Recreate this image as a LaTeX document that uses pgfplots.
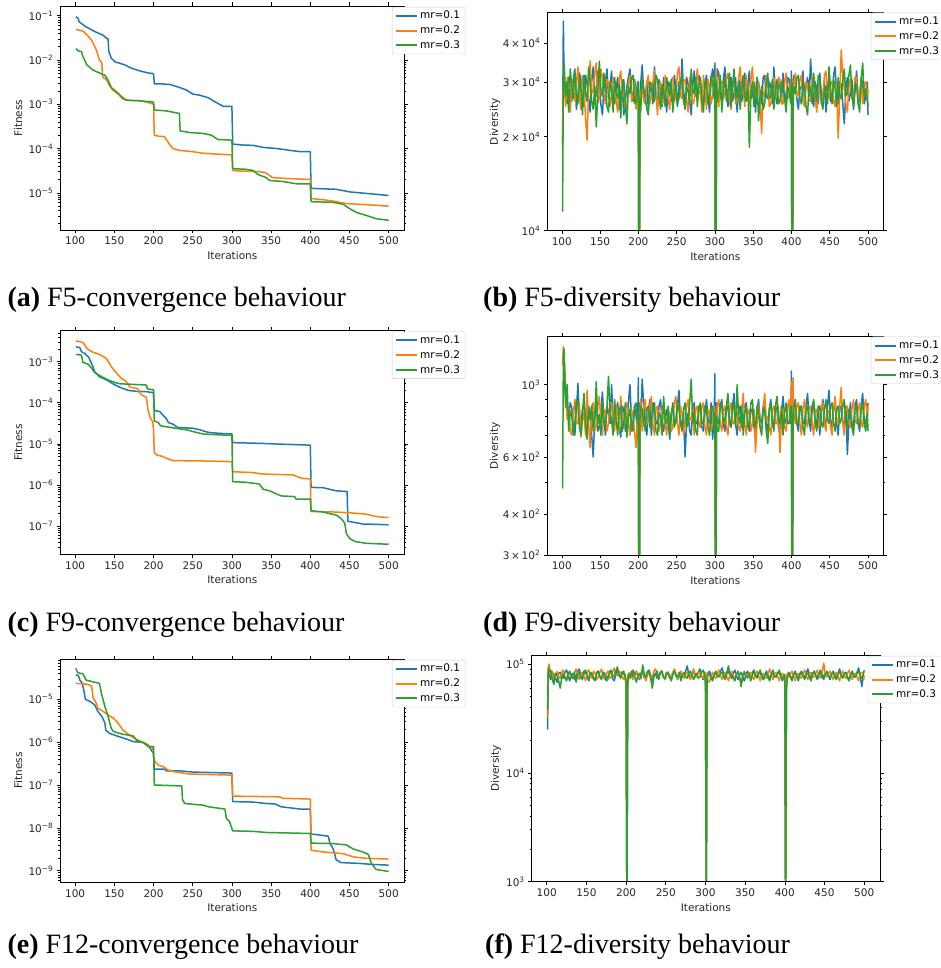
\documentclass[border=0pt]{standalone}
\usepackage{fontspec}
\setmainfont{DejaVu Sans}
\newfontfamily\capfont{Liberation Serif}
\usepackage{pgfplots}
\usepackage{pgfplotstable}
\pgfplotsset{compat=1.18}

\definecolor{mblue}{HTML}{1F77B4}
\definecolor{morange}{HTML}{FF7F0E}
\definecolor{mgreen}{HTML}{2CA02C}

\newcommand{\pw}[1]{10\textsuperscript{#1}}
\newcommand{\tx}[2]{#1\,×\,10\textsuperscript{#2}}

\pgfplotstableread{
x a b c
101 19000 18500 11500
102 47000 30000 31000
103 30000 29000 34500
105 28000 25000 27000
107 25500 31000 30000
109 31000 27500 24000
111 27500 24000 33000
113 26000 30500 29000
115 30500 28000 26500
117 33000 26000 32500
119 24500 29500 27000
121 27000 33500 25500
123 32000 27000 31000
125 30500 24500 28000
127 26000 31500 23500
129 25000 29000 31500
131 31500 23000 27500
133 29500 19500 26000
135 26500 28500 33500
137 24000 35000 30000
139 30000 27500 26000
141 33500 28000 24500
143 28000 32000 29000
145 27000 34500 21500
147 32500 25500 27500
149 29500 26500 35000
151 25500 33000 28500
153 23500 31000 27000
155 28500 27500 32000
157 30000 25500 29500
159 33000 30500 25000
161 26500 30000 24000
163 29000 25000 30000
165 32500 27000 28500
167 27000 31000 24000
169 25500 29500 31000
171 28500 26000 27500
173 31000 24000 26500
175 24500 30500 29500
177 27500 32500 23000
179 30500 27000 28000
181 23500 28500 30500
183 26000 24500 25500
185 29000 25000 22000
187 31000 29500 29000
189 33000 31500 27500
191 28000 26000 31000
193 26000 27000 31500
195 30500 30000 25500
197 28500 24500 26000
199 25500 28500 30000
200 30000 27500 28000
201 2000 2000 2000
202 25000 24000 26500
203 29500 27500 24000
205 34000 29000 31000
207 27500 26000 28500
209 26500 25500 27000
211 30000 30000 24500
213 24500 31500 23500
215 28000 25500 30000
217 29000 27000 29500
219 25500 30000 26500
221 33500 32500 26000
223 27000 27500 31500
225 25500 23500 30500
227 30500 29000 27000
229 28000 30000 24500
231 25000 25500 29500
233 31000 26000 28000
235 27500 31500 25000
237 24000 29500 31000
239 30000 26500 28500
241 29500 24500 27000
243 26000 30500 30500
245 26500 31000 24000
247 31500 26000 27500
249 28500 27000 29500
251 25000 32000 25500
253 30000 33500 26500
255 27000 27000 30000
257 35500 26500 31500
259 28000 30500 26000
261 25000 30500 24500
263 31000 26000 29000
265 29500 24000 28000
267 26000 31000 25500
269 23500 28500 33000
271 29000 25500 28500
273 32500 26000 27500
275 27000 30000 31000
277 27000 33000 25000
279 31500 27500 29000
281 30000 28000 31000
283 26500 24000 26000
285 25500 31500 24000
287 29500 28500 30000
289 31500 24500 29500
291 27000 30500 25500
293 24000 29000 26500
295 30500 25500 31500
297 33000 27000 30000
299 28500 31000 26500
300 34500 26500 31500
301 2000 2000 2000
302 28000 33000 30000
303 33000 28000 26000
305 32000 25000 27500
307 27000 30000 31500
309 26000 30000 24000
311 30500 26500 28500
313 33500 27500 31000
315 28000 31000 26000
317 25000 32000 28000
319 29500 26000 32000
321 31000 24500 25000
323 26000 29000 29000
325 27500 30500 33000
327 31000 25500 26500
329 24000 26500 27000
331 28500 31000 30000
333 30500 33500 24500
335 26000 27500 28500
337 28500 28000 31500
339 32000 25000 27000
341 26000 31500 26000
343 29500 27000 29500
345 32500 25000 18500
347 26500 30500 27500
349 27000 33500 30000
351 30000 27000 25000
353 24000 26500 27500
355 29000 31000 31000
357 30000 29500 22500
359 26500 26000 27000
361 25500 20500 29000
363 31000 28000 24500
365 31500 27000 25500
367 27000 31500 29500
369 26500 29500 32000
371 30000 25000 26500
373 29000 25500 27000
375 25500 29500 30500
377 33500 31000 24500
379 28000 26500 28000
381 25500 27000 30500
383 30500 31000 25500
385 28500 30500 26000
387 26000 25500 30000
389 32000 25500 29500
391 27500 30000 26500
393 26000 32000 24000
395 31000 26500 29000
397 30500 27000 28000
399 26500 30500 25500
400 32500 29000 31000
401 2000 2000 2000
402 27000 25000 24500
403 31500 29500 29000
405 30000 32000 27500
407 26500 27000 31000
409 24500 27500 31500
411 28500 30500 26500
413 29000 31500 25500
415 32500 26000 30000
417 26000 25000 29000
419 29000 30000 25000
421 31000 29500 23500
423 27000 26000 29500
425 35500 26000 28500
427 28500 31500 25500
429 25000 31000 32000
431 30000 26500 27500
433 28500 24000 26000
435 25500 29000 31500
437 32000 29000 30500
439 27500 25500 26000
441 26500 27000 24500
443 30000 31500 28500
445 24000 32500 29000
447 29000 27500 25500
449 30500 26500 33500
451 26000 30000 28500
453 27000 30000 25500
455 31500 26000 30500
457 33500 25000 28500
459 27000 29500 25000
461 25500 19800 31000
463 30000 27000 27000
465 29500 38000 26500
467 25500 31000 30500
469 22000 28500 33000
471 28500 25500 27000
473 31000 24000 27500
475 26000 29000 31500
477 27500 30500 34000
479 30500 26500 27000
481 24500 26500 25000
483 28000 31000 29500
485 32500 31000 29500
487 27000 25500 25500
489 26000 28000 24000
491 31000 30000 30500
493 29500 25500 34500
495 25500 29500 27000
497 27000 30000 28500
499 30000 26500 26000
500 23500 28500 25000
}\divB

\pgfplotstableread{
x a b c
101 1200 1150 480
102 1250 1310 1150
103 1050 1200 1290
105 900 1000 850
107 820 780 1000
109 780 850 720
111 880 720 830
113 850 700 800
115 740 820 700
117 700 900 760
119 820 760 900
121 1010 760 880
123 780 880 740
125 760 690 700
127 840 780 820
129 880 820 940
131 740 700 760
133 720 960 680
135 860 760 840
137 820 640 780
139 700 860 860
141 600 880 720
143 780 720 800
145 860 750 1020
147 720 860 760
149 740 920 810
151 820 760 700
153 950 700 880
155 780 840 760
157 700 830 740
159 860 720 860
161 820 760 1060
163 760 880 820
165 1000 880 780
167 780 760 700
169 760 720 900
171 840 860 780
173 880 830 700
175 740 720 840
177 690 920 860
179 860 780 720
181 840 740 760
183 720 860 880
185 760 880 690
187 880 760 800
189 1000 700 840
191 780 840 720
193 720 800 760
195 860 720 860
197 800 640 880
199 720 800 780
200 1050 760 800
201 100 100 100
202 880 820 780
203 780 900 860
205 1040 720 840
207 860 860 760
209 760 900 720
211 700 760 840
213 820 780 860
215 900 860 740
217 700 920 760
219 820 760 880
221 880 700 840
223 760 840 720
225 760 860 700
227 860 720 820
229 900 760 800
231 760 840 700
233 720 880 920
235 800 760 780
237 840 700 760
239 760 840 860
241 680 800 700
243 800 720 820
245 880 740 860
247 760 880 740
249 760 920 780
251 860 760 880
253 960 700 840
255 780 860 760
257 740 820 720
259 820 700 840
261 600 760 880
263 760 860 740
265 820 900 760
267 720 780 880
269 700 780 1040
271 840 860 760
273 880 700 820
275 760 840 720
277 760 860 700
279 860 760 840
281 840 740 880
283 740 860 760
285 720 880 760
287 820 740 860
289 900 700 840
291 780 840 740
293 760 820 700
295 880 720 840
297 680 760 860
299 800 860 760
300 1080 800 820
301 100 100 100
302 880 740 800
303 780 860 720
305 760 900 720
307 860 760 880
309 900 720 860
311 760 840 760
313 720 860 780
315 840 740 860
317 860 700 940
319 760 840 760
321 740 880 760
323 860 760 880
325 940 760 840
327 760 860 740
329 700 820 1000
331 820 740 800
333 860 720 760
335 740 840 860
337 760 940 700
339 860 760 820
341 880 700 860
343 760 820 740
345 720 840 760
347 840 720 880
349 840 760 900
351 740 840 760
353 700 620 740
355 820 760 860
357 900 860 820
359 780 740 740
361 760 720 700
363 860 840 840
365 860 940 840
367 760 780 720
369 720 800 660
371 840 740 840
373 900 700 880
375 760 840 760
377 760 860 720
379 860 760 860
381 840 760 920
383 740 860 780
385 700 620 760
387 820 800 860
389 920 840 700
391 780 740 820
393 760 720 880
395 860 840 760
397 880 900 760
399 760 780 860
400 1100 1020 860
401 100 100 100
402 780 1050 740
403 860 820 860
405 900 760 880
407 760 860 760
409 720 880 760
411 840 760 860
413 860 700 840
415 760 840 740
417 760 900 700
419 860 780 840
421 940 740 860
423 780 840 760
425 720 860 760
427 840 760 860
429 880 700 900
431 760 840 760
433 760 840 720
435 860 740 840
437 700 760 860
439 820 860 760
441 900 880 740
443 780 760 840
445 760 720 900
447 860 840 780
449 960 820 760
451 780 740 860
453 740 700 880
455 840 840 760
457 880 920 720
459 760 780 840
461 700 760 860
463 840 860 760
465 860 980 780
467 760 760 860
469 760 700 900
471 860 840 760
473 610 860 740
475 780 760 840
477 880 740 820
479 760 840 740
481 740 900 700
483 860 780 840
485 900 760 860
487 760 840 760
489 720 880 740
491 860 760 840
493 940 740 880
495 780 860 760
497 760 900 720
499 840 780 820
500 880 860 720
}\divD

\pgfplotstableread{
x a b c
101 25000 33000 38000
102 88000 95000 92000
103 80000 100000 85000
105 72000 78000 88000
107 84000 86000 72000
109 80000 70000 65000
111 74000 80000 82000
113 68000 85000 78000
115 82000 76000 70000
117 84000 74000 60000
119 76000 84000 76000
121 74000 88000 82000
123 84000 76000 74000
125 88000 72000 70000
127 78000 82000 82000
129 70000 82000 86000
131 80000 74000 76000
133 82000 76000 74000
135 72000 84000 84000
137 76000 90000 68000
139 86000 78000 80000
141 90000 72000 84000
143 78000 82000 74000
145 72000 84000 76000
147 82000 76000 86000
149 84000 70000 88000
151 76000 84000 78000
153 70000 88000 72000
155 82000 78000 84000
157 80000 74000 82000
159 72000 86000 74000
161 74000 82000 70000
163 84000 72000 82000
165 86000 76000 86000
167 76000 84000 76000
169 72000 90000 74000
171 84000 78000 84000
173 82000 72000 80000
175 74000 82000 70000
177 76000 86000 72000
179 86000 76000 82000
181 84000 74000 88000
183 74000 84000 76000
185 70000 92000 78000
187 80000 80000 86000
189 88000 78000 94000
191 78000 86000 80000
193 76000 84000 74000
195 84000 76000 84000
197 82000 72000 86000
199 74000 80000 76000
200 64000 58000 70000
201 500 500 500
202 70000 75000 62000
203 80000 78000 82000
205 80000 84000 74000
207 86000 76000 84000
209 74000 72000 88000
211 80000 84000 76000
213 86000 86000 68000
215 76000 76000 80000
217 72000 74000 82000
219 82000 84000 74000
221 84000 88000 98000
223 74000 78000 80000
225 76000 70000 76000
227 84000 80000 86000
229 88000 82000 84000
231 78000 74000 74000
233 70000 76000 60000
235 80000 86000 76000
237 82000 90000 80000
239 74000 80000 86000
241 78000 74000 72000
243 84000 82000 82000
245 86000 86000 86000
247 76000 76000 76000
249 72000 72000 74000
251 80000 82000 84000
253 84000 84000 82000
255 74000 78000 76000
257 76000 76000 70000
259 84000 84000 80000
261 88000 90000 86000
263 78000 80000 78000
265 72000 72000 76000
267 80000 82000 84000
269 84000 86000 70000
271 76000 78000 80000
273 76000 74000 84000
275 86000 82000 76000
277 96000 84000 74000
279 80000 76000 82000
281 74000 72000 86000
283 82000 82000 78000
285 86000 90000 72000
287 76000 80000 80000
289 78000 76000 82000
291 84000 84000 74000
293 90000 82000 76000
295 78000 76000 84000
297 72000 74000 88000
299 80000 84000 78000
300 84000 80000 70000
301 500 500 500
302 76000 82000 74000
303 82000 70000 80000
305 86000 68000 80000
307 78000 78000 74000
309 72000 84000 70000
311 80000 76000 80000
313 84000 74000 86000
315 76000 82000 78000
317 78000 88000 76000
319 86000 78000 82000
321 92000 72000 84000
323 80000 80000 76000
325 76000 84000 72000
327 82000 76000 84000
329 86000 70000 96000
331 78000 80000 80000
333 74000 86000 80000
335 82000 78000 74000
337 88000 74000 70000
339 78000 82000 80000
341 72000 82000 86000
343 80000 74000 76000
345 84000 66000 62000
347 76000 80000 78000
349 70000 86000 84000
351 80000 80000 76000
353 86000 74000 76000
355 78000 82000 82000
357 74000 84000 70000
359 82000 76000 78000
361 88000 72000 86000
363 80000 80000 78000
365 76000 86000 74000
367 82000 78000 82000
369 84000 70000 88000
371 76000 80000 78000
373 72000 82000 72000
375 80000 76000 80000
377 86000 74000 82000
379 78000 82000 74000
381 74000 90000 70000
383 80000 80000 80000
385 88000 72000 84000
387 78000 80000 76000
389 76000 84000 76000
391 82000 76000 82000
393 84000 70000 88000
395 76000 80000 78000
397 70000 82000 72000
399 78000 76000 80000
400 80000 76000 70000
401 500 500 500
402 64000 70000 56000
403 76000 82000 74000
405 84000 76000 82000
407 78000 80000 76000
409 72000 86000 70000
411 80000 78000 80000
413 86000 70000 84000
415 78000 80000 76000
417 70000 82000 74000
419 80000 76000 82000
421 84000 74000 86000
423 78000 82000 78000
425 76000 88000 72000
427 82000 78000 80000
429 90000 72000 82000
431 80000 80000 76000
433 74000 84000 70000
435 82000 76000 80000
437 86000 76000 86000
439 78000 82000 78000
441 72000 88000 76000
443 80000 78000 82000
445 88000 74000 84000
447 80000 84000 76000
449 76000 102000 72000
451 82000 80000 80000
453 84000 76000 86000
455 78000 82000 78000
457 72000 86000 74000
459 80000 78000 82000
461 86000 72000 84000
463 78000 80000 76000
465 76000 84000 72000
467 82000 76000 80000
469 90000 70000 86000
471 80000 80000 78000
473 74000 86000 76000
475 82000 78000 82000
477 84000 74000 82000
479 76000 82000 74000
481 72000 88000 70000
483 80000 78000 80000
485 86000 72000 84000
487 78000 80000 76000
489 76000 82000 76000
491 84000 76000 82000
493 92000 70000 86000
495 78000 82000 78000
497 62000 84000 74000
499 78000 76000 80000
500 76000 72000 88000
}\divF

\pgfplotsset{
  mypanel/.style={
    scale only axis,
    xmin=81.05, xmax=519.95,
    xtick={100,150,200,250,300,350,400,450,500},
    xticklabels={100,150,200,250,300,350,400,450,500},
    axis line style={black, line width=0.8pt},
    tick align=outside,
    major tick length=3.5pt,
    minor tick length=2pt,
    every tick/.style={black, line width=0.6pt},
    tick label style={font=\fontsize{10.5}{12}\selectfont, text=black!85},
    every axis label/.append style={font=\fontsize{10.5}{12}\selectfont, text=black!85},
    xlabel={Iterations},
    xlabel style={at={(axis description cs:0.5,0)}, anchor=center, yshift=-25.7pt},
    axis on top,
    legend cell align=left,
    legend style={anchor=north west, draw=black!20, rounded corners=2pt,
      fill=white, font=\fontsize{10.5}{12}\selectfont,
      inner xsep=3pt, inner ysep=2pt, row sep=1.5pt,
      /tikz/column 2/.style={column sep=5pt}},
  },
  myconv/.style={mypanel, ylabel={Fitness},
    ylabel style={at={(axis description cs:-0.122,0.5)}, anchor=center}},
  mydiv/.style={mypanel, ylabel={Diversity}},
  ser/.style={line width=1.5pt, line join=round},
  legend image code/.code={\draw[#1,line width=2pt] (0pt,0pt) -- (21pt,0pt);},
}

\begin{document}
\begin{tikzpicture}
\useasboundingbox (0,0) rectangle (940pt,968pt);
\clip (0,0) rectangle (940pt,968pt);

% (a) F5 convergence
\begin{axis}[myconv, ymode=log, at={(60.3pt,738pt)}, anchor=south west, width=344pt, height=224pt,
  ymin=1.445e-6, ymax=0.166,
  ytick={1e-5,1e-4,1e-3,1e-2,1e-1},
  yticklabels={\pw{−5},\pw{−4},\pw{−3},\pw{−2},\pw{−1}},
  minor ytick={2e-6,3e-6,4e-6,5e-6,6e-6,7e-6,8e-6,9e-6,2e-5,3e-5,4e-5,5e-5,6e-5,7e-5,8e-5,9e-5,2e-4,3e-4,4e-4,5e-4,6e-4,7e-4,8e-4,9e-4,2e-3,3e-3,4e-3,5e-3,6e-3,7e-3,8e-3,9e-3,2e-2,3e-2,4e-2,5e-2,6e-2,7e-2,8e-2,9e-2},
  legend style={at={(0.964,0.996)}}]
\addplot[ser, mblue] coordinates {(101,0.095)(104,0.087)(105,0.073)(114,0.056)(125,0.044)(136,0.036)(140,0.031)(142,0.030)(143,0.0155)(144,0.014)(146,0.011)(151,0.0091)(163,0.0078)(172,0.0065)(182,0.0057)(193,0.0051)(200,0.0049)(201,0.0029)(208,0.0029)(221,0.0028)(233,0.0024)(242,0.0021)(250,0.0017)(259,0.0016)(270,0.0014)(276,0.0012)(282,0.00105)(289,0.0009)(300,0.0009)(301,1.26e-4)(314,1.2e-4)(327,1.18e-4)(340,1.06e-4)(357,1e-4)(374,9.1e-5)(387,8.5e-5)(400,8.5e-5)(401,1.26e-5)(433,1.2e-5)(450,1.05e-5)(471,9.7e-6)(500,8.7e-6)};
\addplot[ser, morange] coordinates {(101,0.049)(110,0.045)(115,0.037)(121,0.028)(127,0.017)(131,0.010)(134,0.0087)(135,0.0041)(140,0.0036)(144,0.0026)(148,0.0021)(155,0.0017)(161,0.0013)(170,0.00123)(182,0.0012)(193,0.0011)(200,0.001)(201,2e-4)(206,1.9e-4)(214,1.85e-4)(221,1.2e-4)(225,1e-4)(233,9.1e-5)(250,8.5e-5)(263,7.8e-5)(280,7.5e-5)(300,7.2e-5)(301,3.2e-5)(310,3.1e-5)(327,3.05e-5)(342,2.9e-5)(352,2.2e-5)(370,2.1e-5)(400,2.0e-5)(401,7.4e-6)(416,7.0e-6)(429,6.5e-6)(446,5.7e-6)(463,5.5e-6)(500,5.0e-6)};
\addplot[ser, mgreen] coordinates {(101,0.018)(104,0.016)(108,0.0155)(110,0.012)(115,0.0077)(123,0.0059)(131,0.0051)(138,0.0045)(142,0.0035)(146,0.0024)(153,0.0019)(159,0.0015)(165,0.00123)(182,0.0012)(200,0.00112)(201,7.4e-4)(216,7.1e-4)(233,6.2e-4)(234,2.5e-4)(246,2.3e-4)(263,2.2e-4)(274,2.0e-4)(282,1.6e-4)(300,1.55e-4)(301,3.5e-5)(318,3.4e-5)(327,3.2e-5)(333,2.6e-5)(344,2.2e-5)(348,1.9e-5)(365,1.8e-5)(382,1.6e-5)(400,1.58e-5)(401,6.3e-6)(429,6.1e-6)(442,5.5e-6)(450,4.4e-6)(459,3.6e-6)(471,3.1e-6)(484,2.6e-6)(500,2.4e-6)};
\legend{mr=0.1,mr=0.2,mr=0.3}
\end{axis}

% (b) F5 diversity
\begin{axis}[mydiv, ymode=log, at={(547.3pt,737.3pt)}, anchor=south west, width=336pt, height=218pt,
  ylabel style={at={(axis description cs:-0.156,0.5)}, anchor=center},
  ymin=1e4, ymax=5e4,
  ytick={10000,20000,30000,40000},
  yticklabels={\pw{4},\tx{2}{4},\tx{3}{4},\tx{4}{4}},
  minor ytick={9000},
  legend style={at={(0.963,1)}}]
\addplot[ser, mblue] table[x=x,y=a]{\divB};
\addplot[ser, morange] table[x=x,y=b]{\divB};
\addplot[ser, mgreen] table[x=x,y=c]{\divB};
\legend{mr=0.1,mr=0.2,mr=0.3}
\end{axis}

% (c) F9 convergence
\begin{axis}[myconv, ymode=log, at={(60.3pt,413.7pt)}, anchor=south west, width=344pt, height=223.6pt,
  ymin=2.05e-8, ymax=5.68e-3,
  ytick={1e-7,1e-6,1e-5,1e-4,1e-3},
  yticklabels={\pw{−7},\pw{−6},\pw{−5},\pw{−4},\pw{−3}},
  minor ytick={3e-8,4e-8,5e-8,6e-8,7e-8,8e-8,9e-8,2e-7,3e-7,4e-7,5e-7,6e-7,7e-7,8e-7,9e-7,2e-6,3e-6,4e-6,5e-6,6e-6,7e-6,8e-6,9e-6,2e-5,3e-5,4e-5,5e-5,6e-5,7e-5,8e-5,9e-5,2e-4,3e-4,4e-4,5e-4,6e-4,7e-4,8e-4,9e-4,2e-3,3e-3,4e-3,5e-3},
  legend style={at={(0.964,0.996)}}]
\addplot[ser, mblue] coordinates {(101,2.3e-3)(106,2.2e-3)(108,1.75e-3)(112,1.6e-3)(117,1.3e-3)(121,9.1e-4)(125,5.7e-4)(131,4.3e-4)(140,3.6e-4)(151,2.7e-4)(159,2.3e-4)(168,2.0e-4)(178,1.9e-4)(191,1.86e-4)(200,1.76e-4)(201,6.5e-5)(208,6.1e-5)(212,5.0e-5)(216,4.2e-5)(219,3.3e-5)(225,3.0e-5)(231,2.5e-5)(250,2.4e-5)(259,2.2e-5)(270,1.9e-5)(284,1.8e-5)(300,1.75e-5)(301,1.07e-5)(335,1.03e-5)(352,1.0e-5)(400,9.3e-6)(401,8.7e-7)(416,8.6e-7)(425,7.8e-7)(433,7.2e-7)(447,6.9e-7)(448,1.3e-7)(459,1.2e-7)(467,1.12e-7)(484,1.1e-7)(500,1.07e-7)};
\addplot[ser, morange] coordinates {(101,3.2e-3)(110,2.95e-3)(115,2.1e-3)(121,1.75e-3)(131,1.5e-3)(140,1.2e-3)(146,7.6e-4)(153,5.2e-4)(159,3.9e-4)(165,3.3e-4)(170,2.4e-4)(180,2.2e-4)(182,1.77e-4)(185,1.55e-4)(191,1.35e-4)(193,6.6e-5)(196,4.2e-5)(199,3.5e-5)(200,2.2e-5)(201,6.1e-6)(204,5.4e-6)(212,4.9e-6)(216,4.5e-6)(225,3.9e-6)(259,3.85e-6)(300,3.7e-6)(301,2.1e-6)(327,2.0e-6)(338,1.85e-6)(378,1.75e-6)(389,1.45e-6)(400,1.4e-6)(401,2.25e-7)(429,2.2e-7)(450,2.1e-7)(471,1.95e-7)(484,1.7e-7)(500,1.6e-7)};
\addplot[ser, mgreen] coordinates {(101,1.5e-3)(108,1.45e-3)(110,9.6e-4)(117,8.6e-4)(121,6.9e-4)(125,5.4e-4)(134,4.3e-4)(142,3.6e-4)(151,3.1e-4)(157,2.9e-4)(174,2.8e-4)(191,2.7e-4)(192,2.2e-4)(200,2.05e-4)(201,3.6e-5)(206,3.3e-5)(209,2.75e-5)(225,2.45e-5)(242,2.2e-5)(250,2.0e-5)(263,1.74e-5)(284,1.65e-5)(300,1.62e-5)(301,1.2e-6)(318,1.16e-6)(335,1.05e-6)(340,7.8e-7)(348,7.2e-7)(357,6.0e-7)(363,5.4e-7)(380,5.2e-7)(382,4.5e-7)(400,4.5e-7)(401,2.35e-7)(416,2.2e-7)(425,2.0e-7)(433,1.85e-7)(439,1.55e-7)(444,1.17e-7)(446,6.6e-8)(450,5.0e-8)(457,4.2e-8)(471,3.8e-8)(500,3.6e-8)};
\legend{mr=0.1,mr=0.2,mr=0.3}
\end{axis}

% (d) F9 diversity
\begin{axis}[mydiv, ymode=log, at={(547.3pt,413pt)}, anchor=south west, width=336pt, height=218.3pt,
  ylabel style={at={(axis description cs:-0.156,0.5)}, anchor=center},
  ymin=300, ymax=1404,
  ytick={300,400,600,1000},
  yticklabels={\tx{3}{2},\tx{4}{2},\tx{6}{2},\pw{3}},
  minor ytick={500,700,800,900},
  legend style={at={(0.963,1)}}]
\addplot[ser, mblue] table[x=x,y=a]{\divD};
\addplot[ser, morange] table[x=x,y=b]{\divD};
\addplot[ser, mgreen] table[x=x,y=c]{\divD};
\legend{mr=0.1,mr=0.2,mr=0.3}
\end{axis}

% (e) F12 convergence
\begin{axis}[myconv, ymode=log, at={(60.3pt,85.7pt)}, anchor=south west, width=344pt, height=223.3pt,
  ymin=5.37e-10, ymax=8.7e-5,
  ytick={1e-9,1e-8,1e-7,1e-6,1e-5},
  yticklabels={\pw{−9},\pw{−8},\pw{−7},\pw{−6},\pw{−5}},
  minor ytick={6e-10,7e-10,8e-10,9e-10,2e-9,3e-9,4e-9,5e-9,6e-9,7e-9,8e-9,9e-9,2e-8,3e-8,4e-8,5e-8,6e-8,7e-8,8e-8,9e-8,2e-7,3e-7,4e-7,5e-7,6e-7,7e-7,8e-7,9e-7,2e-6,3e-6,4e-6,5e-6,6e-6,7e-6,8e-6,9e-6,2e-5,3e-5,4e-5,5e-5,6e-5,7e-5,8e-5},
  legend style={at={(0.964,0.996)}}]
\addplot[ser, mblue] coordinates {(101,3.7e-5)(104,3.6e-5)(106,2.8e-5)(109,2.4e-5)(111,1.65e-5)(113,1.0e-5)(119,8.9e-6)(125,7.4e-6)(129,5.2e-6)(134,4.0e-6)(138,2.8e-6)(139,1.9e-6)(144,1.6e-6)(153,1.4e-6)(166,1.17e-6)(174,1.03e-6)(187,9.8e-7)(193,8.6e-7)(197,6.5e-7)(200,5.5e-7)(201,2.35e-7)(214,2.35e-7)(216,2.15e-7)(233,2.15e-7)(250,2.0e-7)(300,1.9e-7)(301,4.1e-8)(327,4.0e-8)(344,3.7e-8)(355,3.6e-8)(363,3.1e-8)(387,2.75e-8)(400,2.75e-8)(401,7.2e-9)(412,6.8e-9)(423,6.4e-9)(425,4.4e-9)(429,3.3e-9)(431,2.5e-9)(433,1.8e-9)(439,1.55e-9)(463,1.48e-9)(480,1.4e-9)(500,1.35e-9)};
\addplot[ser, morange] coordinates {(101,2.35e-5)(115,2.25e-5)(121,2.05e-5)(123,1.05e-5)(127,8.1e-6)(129,6.2e-6)(136,5.2e-6)(142,4.3e-6)(149,3.6e-6)(155,2.75e-6)(161,1.9e-6)(172,1.35e-6)(183,1.03e-6)(191,8.9e-7)(199,7.2e-7)(200,4.6e-7)(202,3.5e-7)(206,2.9e-7)(212,2.7e-7)(219,2.2e-7)(229,2.0e-7)(246,1.8e-7)(300,1.7e-7)(301,5.5e-8)(361,5.3e-8)(365,4.9e-8)(400,4.7e-8)(401,3.0e-9)(416,2.75e-9)(442,2.5e-9)(455,2.1e-9)(471,1.95e-9)(500,1.87e-9)};
\addplot[ser, mgreen] coordinates {(101,5.3e-5)(103,4.2e-5)(110,3.9e-5)(114,2.8e-5)(121,2.6e-5)(131,2.35e-5)(134,1.26e-5)(138,6.8e-6)(142,4.0e-6)(146,2.1e-6)(149,1.77e-6)(159,1.55e-6)(174,1.4e-6)(178,1.12e-6)(187,9.8e-7)(193,7.9e-7)(200,7.9e-7)(201,1.0e-7)(236,9.5e-8)(237,4.5e-8)(240,3.7e-8)(250,3.55e-8)(263,3.4e-8)(270,3.1e-8)(291,2.75e-8)(293,1.65e-8)(297,1.4e-8)(301,8.5e-9)(327,8.3e-9)(344,7.8e-9)(400,7.4e-9)(401,4.4e-9)(429,4.3e-9)(446,4.0e-9)(455,3.2e-9)(467,2.75e-9)(474,2.4e-9)(478,1.48e-9)(484,1.07e-9)(500,9.6e-10)};
\legend{mr=0.1,mr=0.2,mr=0.3}
\end{axis}

% (f) F12 diversity
\begin{axis}[mydiv, ymode=log, at={(531.7pt,86.3pt)}, anchor=south west, width=348.3pt, height=226.7pt,
  ylabel style={at={(axis description cs:-0.1025,0.5)}, anchor=center},
  ymin=1e3, ymax=1.21e5,
  ytick={1000,10000,100000},
  yticklabels={\pw{3},\pw{4},\pw{5}},
  minor ytick={2000,3000,4000,5000,6000,7000,8000,9000,20000,30000,40000,50000,60000,70000,80000,90000},
  legend style={at={(0.965,0.996)}}]
\addplot[ser, mblue] table[x=x,y=a]{\divF};
\addplot[ser, morange] table[x=x,y=b]{\divF};
\addplot[ser, mgreen] table[x=x,y=c]{\divF};
\legend{mr=0.1,mr=0.2,mr=0.3}
\end{axis}

% captions
\begin{scope}[every node/.style={anchor=base west, inner sep=0pt, font=\capfont\fontsize{28}{30}\selectfont}]
\node at (7.3pt,661pt) {\textbf{(a)} F5-convergence behaviour};
\node at (483pt,661pt) {\textbf{(b)} F5-diversity behaviour};
\node at (7.3pt,336pt) {\textbf{(c)} F9-convergence behaviour};
\node at (483pt,336pt) {\textbf{(d)} F9-diversity behaviour};
\node at (7.3pt,14pt) {\textbf{(e)} F12-convergence behaviour};
\node at (485pt,14pt) {\textbf{(f)} F12-diversity behaviour};
\end{scope}
\end{tikzpicture}
\end{document}
